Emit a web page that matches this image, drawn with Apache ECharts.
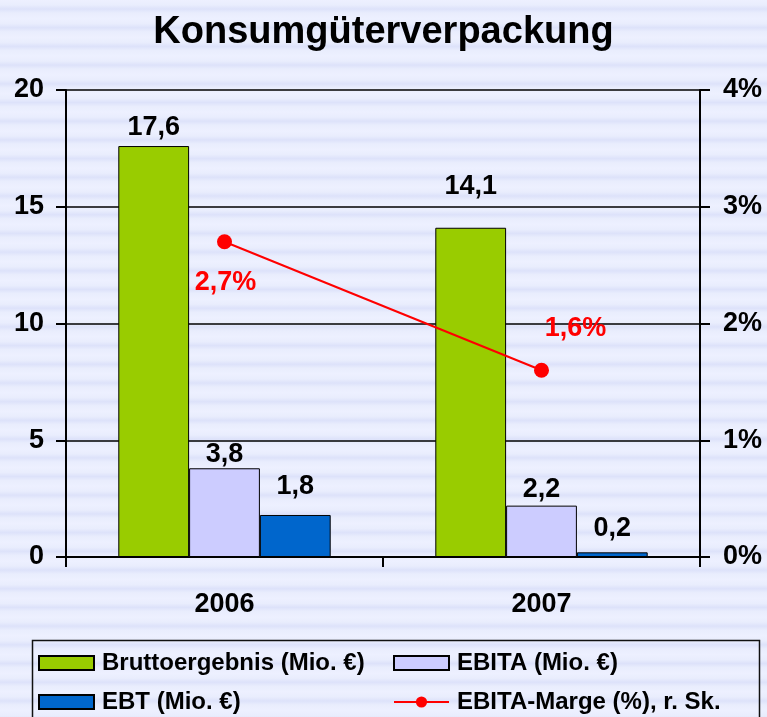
<!DOCTYPE html>
<html>
<head>
<meta charset="utf-8">
<script src="https://cdn.jsdelivr.net/npm/echarts@6/dist/echarts.min.js"></script>
<style>
  html, body {
    margin: 0;
    padding: 0;
  }
  body {
    /* gestreifter Hintergrund wie im Original */
    background: repeating-linear-gradient(180deg, #edf0ff 0px, #e9edfd 5px, #dde2fa 9px, #e9edfd 13px, #edf0ff 18.7px);
  }
  #main {
    width: 767px;
    height: 717px;
  }
</style>
</head>
<body>
<div id="main"></div>
<script>
  // Daten
  var years = ['2006', '2007'];
  var brutto = [17.6, 14.1];
  var ebita = [3.8, 2.2];
  var ebt = [1.8, 0.2];
  var marge = [2.7, 1.6];

  // Abstand der Beschriftung über dem Balken (px)
  var bruttoGap = [5, 28];
  var ebitaGap = [0, 3];
  var ebtGap = [15, 10];
  // Versatz der Prozent-Beschriftung (px)
  var margeOffset = [[1, 41], [34, -42]];

  var FONT = '"Liberation Sans", Arial, sans-serif';

  function komma(v) {
    return v.toFixed(1).replace('.', ',');
  }

  function barData(values, gaps) {
    return values.map(function (v, i) {
      return {value: v, label: {distance: gaps[i]}};
    });
  }

  function barSeries(name, values, gaps, color) {
    return {
      name: name,
      type: 'bar',
      barGap: '0%',
      barCategoryGap: '33%',
      data: barData(values, gaps),
      itemStyle: {
        color: color,
        borderColor: '#000',
        borderWidth: 1
      },
      label: {
        show: true,
        position: 'top',
        fontFamily: FONT,
        fontWeight: 'bold',
        fontSize: 27,
        color: '#000',
        formatter: function (p) {
          return komma(p.value);
        }
      }
    };
  }

  var legendText = {
    fontFamily: FONT,
    fontWeight: 'bold',
    fontSize: 24,
    lineHeight: 24,
    color: '#000',
    padding: [0, 0, 0, 3]
  };

  var myChart = echarts.init(document.getElementById('main'));

  myChart.setOption({
    backgroundColor: 'transparent',
    animation: false,
    title: {
      text: 'Konsumgüterverpackung',
      left: 'center',
      top: 9,
      textStyle: {
        fontFamily: FONT,
        fontWeight: 'bold',
        fontSize: 38,
        color: '#000'
      }
    },
    grid: {
      left: 66,
      right: 67,
      top: 90,
      bottom: 160
    },
    legend: [
      {
        orient: 'vertical',
        left: 38,
        top: 651,
        padding: 0,
        itemWidth: 55,
        itemHeight: 14,
        itemGap: 15,
        data: [
          {name: 'Bruttoergebnis (Mio. €)', icon: 'rect'},
          {name: 'EBT (Mio. €)', icon: 'rect'}
        ],
        textStyle: legendText
      },
      {
        orient: 'vertical',
        left: 393,
        top: 651,
        padding: 0,
        itemWidth: 55,
        itemHeight: 14,
        itemGap: 15,
        data: [
          {name: 'EBITA (Mio. €)', icon: 'rect'},
          'EBITA-Marge (%), r. Sk.'
        ],
        textStyle: legendText
      }
    ],
    graphic: [
      {
        type: 'rect',
        left: 30,
        top: 638,
        shape: {width: 727, height: 100},
        style: {fill: 'none', stroke: '#111', lineWidth: 1.5}
      }
    ],
    xAxis: {
      type: 'category',
      data: years,
      axisLine: {lineStyle: {color: '#000', width: 2}},
      axisTick: {show: true, length: 10, lineStyle: {color: '#000', width: 2}},
      axisLabel: {
        margin: 34,
        fontFamily: FONT,
        fontWeight: 'bold',
        fontSize: 27,
        color: '#000'
      }
    },
    yAxis: [
      {
        type: 'value',
        min: 0,
        max: 20,
        interval: 5,
        axisLine: {show: true, lineStyle: {color: '#000', width: 2}},
        axisTick: {show: true, length: 10, lineStyle: {color: '#000', width: 2}},
        splitLine: {lineStyle: {color: '#000', width: 1.5}},
        axisLabel: {
          margin: 22,
          fontFamily: FONT,
          fontWeight: 'bold',
          fontSize: 27,
          color: '#000'
        }
      },
      {
        type: 'value',
        min: 0,
        max: 4,
        interval: 1,
        position: 'right',
        axisLine: {show: true, lineStyle: {color: '#000', width: 2}},
        axisTick: {show: true, length: 10, lineStyle: {color: '#000', width: 2}},
        splitLine: {show: false},
        axisLabel: {
          margin: 23,
          fontFamily: FONT,
          fontWeight: 'bold',
          fontSize: 27,
          color: '#000',
          formatter: '{value}%'
        }
      }
    ],
    series: [
      barSeries('Bruttoergebnis (Mio. €)', brutto, bruttoGap, '#99cc00'),
      barSeries('EBITA (Mio. €)', ebita, ebitaGap, '#ccccff'),
      barSeries('EBT (Mio. €)', ebt, ebtGap, '#0066cc'),
      {
        name: 'EBITA-Marge (%), r. Sk.',
        type: 'line',
        yAxisIndex: 1,
        data: marge.map(function (v, i) {
          return {value: v, label: {offset: margeOffset[i]}};
        }),
        symbol: 'circle',
        symbolSize: 15,
        lineStyle: {color: '#ff0000', width: 2},
        itemStyle: {color: '#ff0000'},
        label: {
          show: true,
          position: 'inside',
          fontFamily: FONT,
          fontWeight: 'bold',
          fontSize: 27,
          color: '#ff0000',
          formatter: function (p) {
            return komma(p.value) + '%';
          }
        }
      }
    ]
  });
</script>
</body>
</html>
